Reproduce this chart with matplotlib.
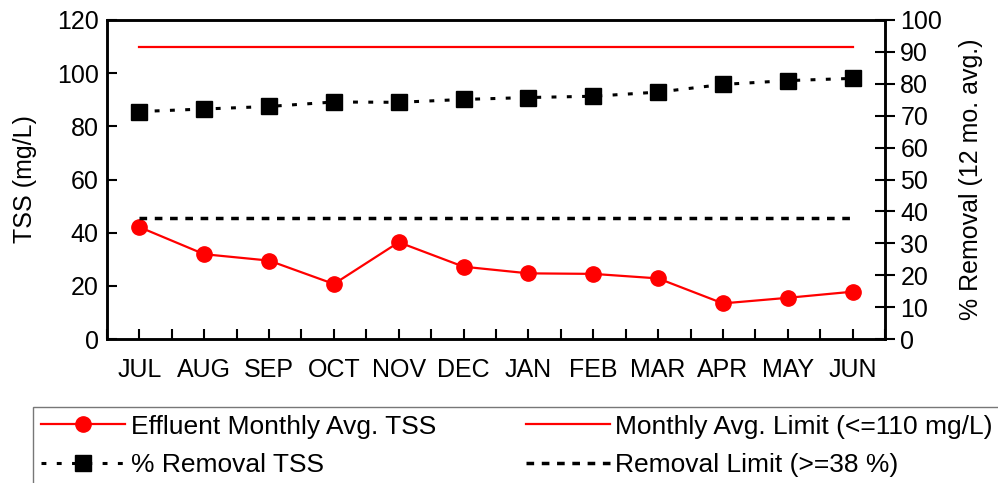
import matplotlib
matplotlib.use("Agg")
import matplotlib.pyplot as plt
from matplotlib.ticker import MultipleLocator

plt.rcParams['font.family'] = ['Liberation Sans', 'DejaVu Sans']

months = ["JUL", "AUG", "SEP", "OCT", "NOV", "DEC", "JAN", "FEB", "MAR", "APR", "MAY", "JUN"]
effluent_tss = [42.1, 31.9, 29.5, 20.7, 36.4, 27.2, 24.7, 24.5, 22.8, 13.4, 15.5, 17.8]
removal_pct = [71.3, 72.1, 72.9, 74.3, 74.2, 75.1, 75.7, 76.1, 77.4, 79.8, 81.0, 81.7]
tss_limit = 110
removal_limit = 38

fig = plt.figure(figsize=(9.98, 4.83), dpi=100)
ax = fig.add_axes([0.1072, 0.2981, 0.7796, 0.6605])
ax2 = ax.twinx()

x = list(range(len(months)))

l_eff, = ax.plot(x, effluent_tss, color='#ff0000', lw=1.6, marker='o', markersize=11,
                 label='Effluent Monthly Avg. TSS', zorder=3)
l_lim, = ax.plot([x[0], x[-1]], [tss_limit, tss_limit], color='#ff0000', lw=1.6,
                 label='Monthly Avg. Limit (<=110 mg/L)')
l_rem, = ax2.plot(x, removal_pct, color='black', lw=2.2, linestyle=(0, (1.6, 3.4)),
                  marker='s', markersize=11, label='% Removal TSS')
l_rlim, = ax2.plot([x[0], x[-1]], [removal_limit, removal_limit], color='black', lw=2.5,
                   linestyle=(0, (2.2, 2.2)), label='Removal Limit (>=38 %)')

ax.set_xlim(-0.5, len(months) - 0.5)
ax.set_ylim(0, 120)
ax2.set_ylim(0, 100)
ax.set_xticks(x)
ax.set_xticklabels(months)
ax.xaxis.set_minor_locator(MultipleLocator(0.5))
ax.yaxis.set_major_locator(MultipleLocator(20))
ax2.yaxis.set_major_locator(MultipleLocator(10))

for s in ax.spines.values():
    s.set_linewidth(1.8)
for s in ax2.spines.values():
    s.set_linewidth(1.8)

FS = 18
ax.tick_params(axis='x', which='both', direction='in', length=7, width=1.5, labelsize=FS, pad=14, top=False)
ax.tick_params(axis='y', direction='in', length=7, width=1.5, labelsize=FS, pad=6)
ax2.tick_params(axis='y', direction='inout', length=14, width=1.5, labelsize=FS, pad=4)

ax.set_ylabel('TSS (mg/L)', fontsize=FS, labelpad=14)
ax2.set_ylabel('% Removal (12 mo. avg.)', fontsize=FS, labelpad=12)

leg = fig.legend(handles=[l_eff, l_rem, l_lim, l_rlim], ncol=2, loc='lower left',
                 bbox_to_anchor=(0.033, -0.004), fontsize=19, frameon=True, fancybox=False,
                 handlelength=3.2, handletextpad=0.2, columnspacing=3.4, borderaxespad=0,
                 borderpad=0.3, labelspacing=0.55, edgecolor='#555555')
leg.get_frame().set_linewidth(1.0)

fig.savefig('out.png', dpi=100)
